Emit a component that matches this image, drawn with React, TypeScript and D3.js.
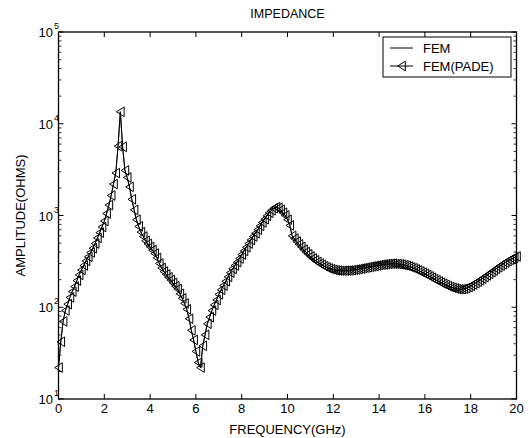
import React from "react";
import * as d3 from "d3";

// frequency grid (GHz): start and step of the sampled points
const FREQ_START = 0;
const FREQ_STEP = 0.1;

// impedance amplitude (ohms), one value per 0.1 GHz
const impedance: number[] = [
  22, 42, 70, 92, 108, 128, 148, 168, 195, 225,
  255, 285, 320, 355, 395, 440, 495, 570, 650, 750,
  870, 1050, 1300, 1650, 2200, 2900, 5700, 13500, 5600, 3100,
  2600, 2050, 1500, 1150, 900, 760, 660, 590, 530, 490,
  455, 420, 385, 345, 300, 268, 245, 228, 212, 198,
  184, 170, 158, 140, 125, 110, 95, 75, 56, 44,
  33, 25, 22, 38, 50, 66, 78, 92, 106, 120,
  138, 155, 172, 192, 214, 238, 262, 285, 310, 340,
  375, 410, 450, 495, 540, 590, 640, 700, 770, 840,
  910, 990, 1070, 1140, 1200, 1230, 1210, 1150, 1070, 1000,
  900, 780, 600, 560, 520, 485, 455, 425, 400, 378,
  358, 340, 325, 312, 300, 290, 280, 272, 265, 260,
  256, 253, 251, 250, 250, 250, 251, 252, 254, 256,
  258, 261, 264, 267, 270, 273, 276, 279, 282, 285,
  288, 291, 293, 295, 297, 298, 298, 297, 296, 294,
  291, 287, 283, 278, 272, 266, 259, 252, 245, 238,
  231, 224, 217, 210, 203, 197, 191, 185, 180, 175,
  170, 166, 163, 160, 158, 157, 157, 159, 162, 166,
  171, 177, 183, 190, 197, 205, 213, 222, 231, 241,
  251, 262, 273, 284, 295, 306, 317, 328, 338, 348,
  358,
];

const xTicks = [0, 2, 4, 6, 8, 10, 12, 14, 16, 18, 20];
const yDecades = [1, 2, 3, 4, 5];
const seriesNames = ["FEM", "FEM(PADE)"];
const titleText = "IMPEDANCE";
const xLabelText = "FREQUENCY(GHz)";
const yLabelText = "AMPLITUDE(OHMS)";

const W = 532;
const H = 438;
const L = 58.5;
const R = 516.5;
const T = 32;
const B = 399;
const FONT = "'Liberation Sans', Arial, Helvetica, sans-serif";

export default function App() {
  const x = d3.scaleLinear().domain([0, 20]).range([L, R]);
  const y = d3.scaleLog().domain([10, 1e5]).range([B, T]);

  const pts: [number, number][] = impedance.map((v, i) => [FREQ_START + i * FREQ_STEP, v]);
  const line = d3
    .line<[number, number]>()
    .x((d) => x(d[0]))
    .y((d) => y(d[1]));
  const pathD = line(pts) || "";

  const tri = (cx: number, cy: number) =>
    `M${cx - 3.8},${cy} L${cx + 3.8},${cy - 4.8} L${cx + 3.8},${cy + 4.8} Z`;

  // minor ticks on log axis
  const minor: number[] = [];
  for (let e = 1; e < 5; e++) {
    for (let m = 2; m <= 9; m++) minor.push(m * Math.pow(10, e));
  }

  const legX = 383;
  const legY = 37;
  const legW = 128;
  const legH = 40;

  return (
    <svg
      width={W}
      height={H}
      style={{ position: "absolute", left: 0, top: 0, background: "#fff" }}
      fontFamily={FONT}
    >
      <rect x={0} y={0} width={W} height={H} fill="#fff" />
      {/* title */}
      <text x={(L + R) / 2} y={18} textAnchor="middle" fontSize={12.5}>
        {titleText}
      </text>

      {/* data: FEM line and FEM(PADE) with markers */}
      <path d={pathD} fill="none" stroke="#000" strokeWidth={1} />
      <path d={pathD} fill="none" stroke="#000" strokeWidth={0.8} />
      {pts.map((p, i) => (
        <path
          key={i}
          d={tri(x(p[0]), y(p[1]))}
          fill="none"
          stroke="#000"
          strokeWidth={1}
        />
      ))}

      {/* frame */}
      <rect x={L} y={T} width={R - L} height={B - T} fill="none" stroke="#000" strokeWidth={1.3} />

      {/* x ticks */}
      {xTicks.map((t) => (
        <g key={"x" + t}>
          <line x1={x(t)} x2={x(t)} y1={B} y2={B - 5} stroke="#000" strokeWidth={1} />
          <line x1={x(t)} x2={x(t)} y1={T} y2={T + 5} stroke="#000" strokeWidth={1} />
          <text x={x(t)} y={413} textAnchor="middle" fontSize={13}>
            {t}
          </text>
        </g>
      ))}

      {/* y ticks */}
      {yDecades.map((e) => {
        const v = Math.pow(10, e);
        const yy = y(v);
        return (
          <g key={"y" + e}>
            <line x1={L} x2={L + 5} y1={yy} y2={yy} stroke="#000" strokeWidth={1} />
            <line x1={R} x2={R - 5} y1={yy} y2={yy} stroke="#000" strokeWidth={1} />
            <text x={53} y={yy + 5} textAnchor="end" fontSize={13}>
              10
            </text>
            <text x={54} y={yy - 3} textAnchor="start" fontSize={9}>
              {e}
            </text>
          </g>
        );
      })}
      {minor.map((v) => (
        <g key={"m" + v}>
          <line x1={L} x2={L + 3} y1={y(v)} y2={y(v)} stroke="#000" strokeWidth={0.8} />
          <line x1={R} x2={R - 3} y1={y(v)} y2={y(v)} stroke="#000" strokeWidth={0.8} />
        </g>
      ))}

      {/* axis labels */}
      <text x={(L + R) / 2} y={434} textAnchor="middle" fontSize={13}>
        {xLabelText}
      </text>
      <text
        transform={`translate(25,${(T + B) / 2}) rotate(-90)`}
        textAnchor="middle"
        fontSize={13}
      >
        {yLabelText}
      </text>

      {/* legend */}
      <rect x={legX} y={legY} width={legW} height={legH} fill="#fff" stroke="#000" strokeWidth={1} />
      <line x1={390} x2={413} y1={48} y2={48} stroke="#000" strokeWidth={1} />
      <text x={423} y={53} fontSize={13}>
        {seriesNames[0]}
      </text>
      <line x1={390} x2={413} y1={66} y2={66} stroke="#000" strokeWidth={1} />
      <path d={tri(401.5, 66)} fill="none" stroke="#000" strokeWidth={1} />
      <text x={423} y={71} fontSize={13}>
        {seriesNames[1]}
      </text>
    </svg>
  );
}
